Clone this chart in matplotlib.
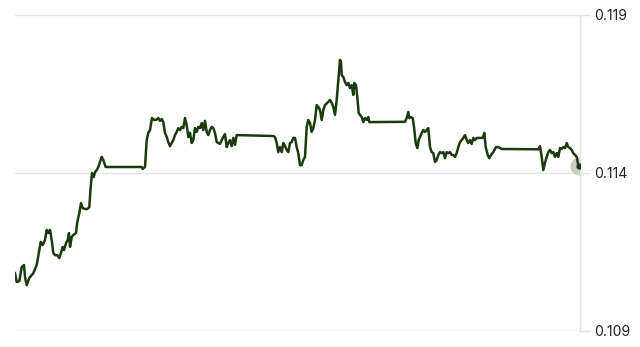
import matplotlib
matplotlib.use("Agg")
import matplotlib.pyplot as plt

# time index (steps) and price values
t = [0, 1.7, 4.3, 6.7, 9, 10, 11.7, 14.3, 16.7, 18.3, 21.7, 24.3, 25.7, 27.7, 30, 31.7, 33.3, 35,
     36.7, 38.3, 40, 42.3, 44.3, 46, 47.7, 49, 51, 52.7, 54, 55, 56.7, 58.3, 61, 62.3, 64.3, 66,
     67.7, 70, 72.3, 74.3, 75.7, 77, 78.7, 80, 81.7, 83.3, 85, 86.7, 88.3, 90.7, 126.7, 127.7, 130,
     131.7, 133.3, 135, 137, 139, 141, 143.3, 145, 146.7, 148.3, 150, 151.7, 153.3, 155, 156.7,
     158.3, 160, 161.7, 163.3, 165, 166.7, 168.3, 170, 171.7, 173.3, 175, 176.7, 178.3, 180, 181.7,
     183.3, 185, 186.7, 188.3, 190, 191.7, 193.3, 195, 196.7, 198.3, 200, 201.7, 203.3, 205, 206.7,
     208.3, 210, 211.7, 213.3, 215, 216.7, 218.3, 220, 221.7, 258.3, 260, 261.7, 263.3, 265, 266.7,
     268.3, 270, 271.7, 273.3, 275, 276.7, 278.3, 280, 281.7, 283.3, 285, 286.7, 288.3, 290, 291.7,
     293.3, 295, 296.7, 298.3, 300, 301.7, 303.3, 305, 306.7, 308.3, 310, 313.3, 315, 316.7, 318.3,
     320, 321.7, 323.3, 325, 326, 326.7, 328.3, 330, 331.7, 333.3, 335, 336.7, 338.3, 339.3, 341,
     342.3, 343.7, 345, 346.7, 348.3, 350, 351.7, 353.3, 354.3, 390, 391.7, 393.3, 394.3, 395.7,
     397.7, 399, 400.7, 402.3, 403.7, 405, 406.7, 408.3, 410, 411.7, 413.3, 415, 416.7, 418.3, 420,
     421.7, 423.3, 425, 426.7, 428.3, 430, 431.7, 433.3, 435, 436.7, 438.3, 440, 441.7, 443.3, 445,
     446.7, 448.3, 450, 451.7, 453.3, 455, 456.7, 458.3, 460, 461.7, 465, 467.7, 469.3, 470.7,
     472.7, 474.3, 476, 478.3, 481, 483.3, 486.7, 523.3, 525, 526.7, 528.3, 530, 531.7, 533.3, 535,
     536.7, 538.3, 540, 541.7, 543.3, 545, 546.7, 548.3, 550, 551.7, 553.3, 555, 556.7, 558.3,
     560, 561.7, 563.3, 564.3]
price = [0.11083, 0.11055, 0.11058, 0.11102, 0.11109, 0.11071, 0.11045, 0.11068, 0.11077, 0.11083,
         0.11109, 0.11156, 0.11182, 0.11172, 0.11188, 0.11220, 0.11210, 0.11220, 0.11188, 0.11147,
         0.11140, 0.11140, 0.11131, 0.11147, 0.11166, 0.11156, 0.11178, 0.11188, 0.11210, 0.11166,
         0.11197, 0.11204, 0.11210, 0.11245, 0.11273, 0.11305, 0.11289, 0.11286, 0.11286, 0.11292,
         0.11356, 0.11400, 0.11387, 0.11403, 0.11409, 0.11419, 0.11435, 0.11451, 0.11441, 0.11419,
         0.11419, 0.11413, 0.11419, 0.11504, 0.11527, 0.11536, 0.11574, 0.11568, 0.11568, 0.11574,
         0.11565, 0.11571, 0.11561, 0.11527, 0.11514, 0.11498, 0.11485, 0.11495, 0.11504, 0.11520,
         0.11530, 0.11542, 0.11536, 0.11546, 0.11542, 0.11574, 0.11552, 0.11514, 0.11527, 0.11495,
         0.11504, 0.11542, 0.11530, 0.11546, 0.11542, 0.11558, 0.11536, 0.11565, 0.11530, 0.11520,
         0.11536, 0.11546, 0.11542, 0.11527, 0.11498, 0.11495, 0.11492, 0.11504, 0.11514, 0.11523,
         0.11482, 0.11495, 0.11504, 0.11485, 0.11511, 0.11489, 0.11520, 0.11517, 0.11514,
         0.11495, 0.11466, 0.11482, 0.11466, 0.11495, 0.11485, 0.11473, 0.11466, 0.11495, 0.11498,
         0.11511, 0.11511, 0.11482, 0.11463, 0.11425, 0.11425, 0.11441, 0.11451, 0.11546, 0.11568,
         0.11558, 0.11530, 0.11542, 0.11568, 0.11615, 0.11609, 0.11599, 0.11568, 0.11599, 0.11615,
         0.11625, 0.11631, 0.11622, 0.11609, 0.11584, 0.11631, 0.11694, 0.11758, 0.11751, 0.11710,
         0.11704, 0.11688, 0.11678, 0.11685, 0.11669, 0.11678, 0.11647, 0.11685, 0.11678, 0.11640,
         0.11590, 0.11584, 0.11577, 0.11561, 0.11574, 0.11568, 0.11577, 0.11561, 0.11562,
         0.11574, 0.11593, 0.11574, 0.11577, 0.11574, 0.11546, 0.11495, 0.11479, 0.11504, 0.11514,
         0.11527, 0.11536, 0.11530, 0.11536, 0.11542, 0.11482, 0.11466, 0.11463, 0.11435, 0.11441,
         0.11457, 0.11466, 0.11463, 0.11466, 0.11447, 0.11466, 0.11463, 0.11466, 0.11457, 0.11457,
         0.11451, 0.11463, 0.11482, 0.11498, 0.11504, 0.11511, 0.11520, 0.11504, 0.11495, 0.11504,
         0.11492, 0.11511, 0.11504, 0.11511, 0.11511, 0.11511, 0.11527, 0.11482, 0.11457, 0.11447,
         0.11457, 0.11466, 0.11482, 0.11482, 0.11476, 0.11475, 0.11485, 0.11451, 0.11409, 0.11432,
         0.11451, 0.11466, 0.11473, 0.11463, 0.11466, 0.11451, 0.11463, 0.11451, 0.11479, 0.11476,
         0.11482, 0.11479, 0.11495, 0.11482, 0.11479, 0.11473, 0.11463, 0.11457, 0.11451, 0.11425,
         0.11422]
yticks = [0.109, 0.114, 0.119]
ytick_labels = ["0.109", "0.114", "0.119"]

plt.rcParams['font.family'] = ['Inter', 'DejaVu Sans']

n = min(len(t), len(price))
t, price = t[:n], price[:n]

fig = plt.figure(figsize=(6.4, 3.47), dpi=100)
ax = fig.add_axes([15 / 640, 1 - 331 / 347, (580 - 15) / 640, (331 - 15) / 347])

grid_c = "#e3e3e3"
ax.set_xlim(0, 565)
ax.set_ylim(0.109, 0.119)
for yv in yticks:
    ax.axhline(yv, color=grid_c if yv != 0.109 else "#d6d6d6", lw=1.0, zorder=1)

ax.plot(t, price, color="#1c3a0e", lw=1.8, solid_joinstyle="round", zorder=3)
ax.plot([t[-1]], [price[-1]], "o", ms=12, color="#c9d0c3", zorder=2)
ax.plot([t[-1]], [price[-1]], "o", ms=3.5, color="#1c3a0e", zorder=4)

for s in ["top", "left", "bottom"]:
    ax.spines[s].set_visible(False)
ax.spines["right"].set_color(grid_c)
ax.spines["right"].set_linewidth(1.0)

ax.yaxis.tick_right()
ax.set_yticks(yticks)
ax.set_yticklabels(ytick_labels)
ax.tick_params(axis="y", length=7, width=1.0, color=grid_c, pad=3.5,
               labelsize=10, labelcolor="#222222")
ax.set_xticks([])

fig.savefig("out.png", dpi=100)
